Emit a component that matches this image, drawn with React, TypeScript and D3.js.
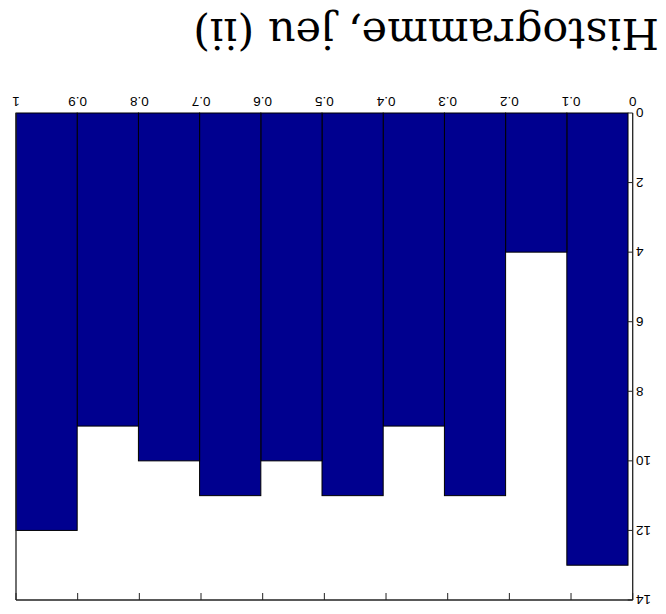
import React from "react";
import * as d3 from "d3";

const title = "Histogramme, jeu (ii)";
const binEdges = [0.0076, 0.1068, 0.2061, 0.3053, 0.4046, 0.5038, 0.603, 0.7023, 0.8015, 0.9008, 1.0];
const counts = [13, 4, 11, 9, 11, 10, 11, 10, 9, 12];
const xTicks = [0, 0.1, 0.2, 0.3, 0.4, 0.5, 0.6, 0.7, 0.8, 0.9, 1];
const yTicks = [0, 2, 4, 6, 8, 10, 12, 14];

export default function App() {
  const W = 666, H = 614;
  const x = d3.scaleLinear().domain([0, 1]).range([632.7, 16]);
  const y = d3.scaleLinear().domain([0, 14]).range([113, 600]);
  const fmt = (v: number) => (v === 0 || v === 1 ? String(v) : d3.format(".1f")(v));
  const axisColor = "#222";
  const sans = "'Liberation Sans', Arial, sans-serif";
  return (
    <svg width={W} height={H} style={{ position: "absolute", left: 0, top: 0, background: "#fff" }}>
      <text
        transform={`translate(426,18.5) rotate(180)`}
        textAnchor="middle"
        fontFamily="'DejaVu Serif', serif"
        fontSize={43}
        fill="#000"
      >
        {title}
      </text>
      {counts.map((c, i) => {
        const x0 = x(binEdges[i + 1]);
        const x1 = x(binEdges[i]);
        return (
          <rect
            key={i}
            x={x0}
            y={y(0)}
            width={x1 - x0}
            height={y(c) - y(0)}
            fill="#00008f"
            stroke="#000"
            strokeWidth={1}
          />
        );
      })}
      {/* frame lines */}
      <line x1={x(1)} x2={x(1)} y1={y(0)} y2={y(14)} stroke={axisColor} strokeWidth={1.3} />
      <line x1={x(0)} x2={x(0)} y1={y(0)} y2={y(14)} stroke={axisColor} strokeWidth={1.3} />
      <line x1={x(1)} x2={x(0)} y1={y(14)} y2={y(14)} stroke={axisColor} strokeWidth={1.5} />
      {xTicks.map((t) => (
        <g key={"x" + t}>
          <line x1={x(t)} x2={x(t)} y1={y(14)} y2={y(14) - 7} stroke={axisColor} strokeWidth={1} />
          <text
            transform={`translate(${x(t)},96.7) rotate(180)`}
            textAnchor="middle"
            fontFamily={sans}
            fontSize={13.5}
            fill="#000"
          >
            {fmt(t)}
          </text>
        </g>
      ))}
      {yTicks.map((t) => (
        <g key={"y" + t}>
          <line x1={x(0)} x2={x(0) - 5} y1={y(t)} y2={y(t)} stroke={axisColor} strokeWidth={1} />
          <text
            transform={`translate(636,${y(t)}) rotate(180)`}
            textAnchor="end"
            dy="0.35em"
            fontFamily={sans}
            fontSize={13.5}
            fill="#000"
          >
            {t}
          </text>
        </g>
      ))}
    </svg>
  );
}
